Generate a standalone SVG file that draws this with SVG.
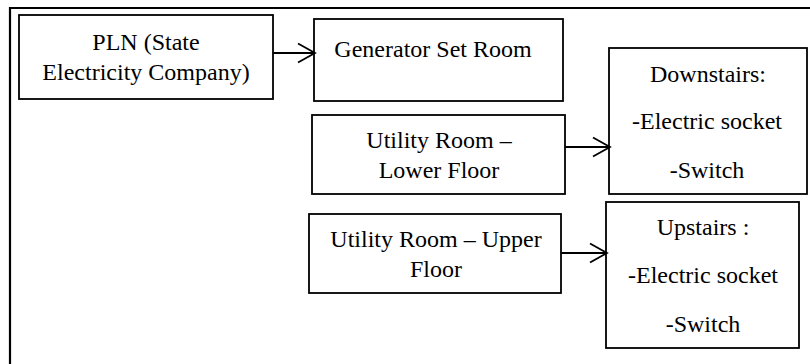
<svg xmlns="http://www.w3.org/2000/svg" width="810" height="364" viewBox="0 0 810 364">
<defs>
<marker id="open" viewBox="0 0 20 22" refX="18" refY="11" markerWidth="20" markerHeight="22" markerUnits="userSpaceOnUse" orient="auto">
<path d="M1 1.5 L18 11 L1 20.5" fill="none" stroke="#000" stroke-width="1.8"/>
</marker>
</defs>
<style>
.box{fill:#fff;stroke:#000;stroke-width:1.8}
text{font-family:'Liberation Serif','DejaVu Serif',serif;font-size:24px;fill:#000;text-anchor:middle}
.c{stroke:#000;stroke-width:1.8;fill:none}
</style>
<rect width="810" height="364" fill="#fff"/>
<path d="M10 370 V8 H815" fill="none" stroke="#000" stroke-width="2.2"/>
<g id="pln">
<rect class="box" x="19" y="15" width="254" height="84"/>
<text x="146" y="50">PLN (State</text>
<text x="146" y="80">Electricity Company)</text>
</g>
<g id="generator">
<rect class="box" x="314" y="19" width="249" height="82"/>
<text x="433" y="57">Generator Set Room</text>
</g>
<g id="utility-lower">
<rect class="box" x="312" y="115" width="253" height="79"/>
<text x="439" y="148">Utility Room –</text>
<text x="439" y="178">Lower Floor</text>
</g>
<g id="downstairs">
<rect class="box" x="609" y="48" width="198" height="146"/>
<text x="708" y="82">Downstairs:</text>
<text x="707" y="129">-Electric socket</text>
<text x="707" y="178">-Switch</text>
</g>
<g id="utility-upper">
<rect class="box" x="309" y="214" width="252" height="79"/>
<text x="436" y="247">Utility Room – Upper</text>
<text x="436" y="277">Floor</text>
</g>
<g id="upstairs">
<rect class="box" x="606" y="202" width="193" height="146"/>
<text x="703" y="235">Upstairs :</text>
<text x="703" y="283">-Electric socket</text>
<text x="703" y="332">-Switch</text>
</g>
<g id="connectors">
<line class="c" x1="273" y1="53" x2="315" y2="53" marker-end="url(#open)"/>
<line class="c" x1="565" y1="147" x2="610" y2="147" marker-end="url(#open)"/>
<line class="c" x1="561" y1="253" x2="607" y2="253" marker-end="url(#open)"/>
</g>
</svg>
